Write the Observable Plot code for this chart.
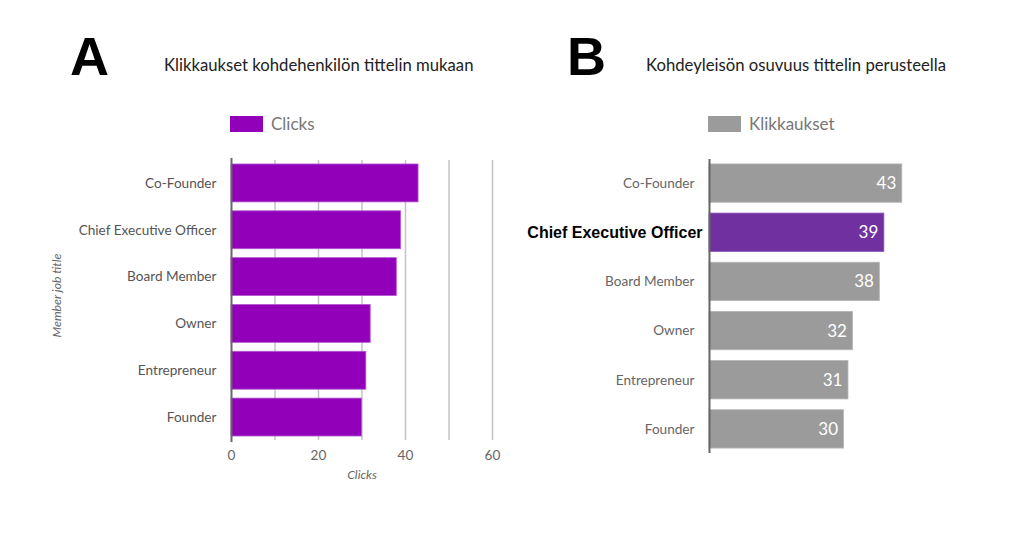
<!DOCTYPE html>
<html>
<head>
<meta charset="utf-8">
<script src="https://cdn.jsdelivr.net/npm/d3@7"></script>
<script src="https://cdn.jsdelivr.net/npm/@observablehq/plot@0.6"></script>
<style>
  html, body { margin: 0; padding: 0; background: #fff; }
  #root { position: relative; width: 1024px; height: 538px; overflow: hidden; background: #fff; font-family: Lato, sans-serif; }
  .abs { position: absolute; white-space: nowrap; }
  .letter { font-family: "Liberation Sans", Arial, sans-serif; font-weight: bold; font-size: 54px; line-height: 1; color: #000; }
  .subtitle { font-family: Lato, sans-serif; font-size: 16.7px; color: #222; line-height: 1; }
  .legend { font-family: Lato, sans-serif; font-size: 17px; color: #777; line-height: 1; display: flex; align-items: center; }
  .swatch { display: inline-block; width: 33px; height: 16px; margin-right: 8px; }
</style>
</head>
<body>
<div id="root"></div>
<script>
// ---- data ----
const titles = ["Co-Founder", "Chief Executive Officer", "Board Member", "Owner", "Entrepreneur", "Founder"];
const clicks = [43, 39, 38, 32, 31, 30];
const highlightTitle = "Chief Executive Officer";
const xTicksA = [0, 20, 40, 60];
const gridA = [10, 20, 30, 40, 50, 60];
const panelLetters = ["A", "B"];
const panelTitles = ["Klikkaukset kohdehenkilön tittelin mukaan", "Kohdeyleisön osuvuus tittelin perusteella"];
const legendLabels = ["Clicks", "Klikkaukset"];
const axisTitleX = "Clicks";
const axisTitleY = "Member job title";

const rows = titles.map((t, i) => ({title: t, clicks: clicks[i]}));

const purpleA = "#9300b9";
const purpleB = "#7030a0";
const greyB = "#9b9b9b";

const root = document.getElementById("root");
function addDiv(cls, left, top, html) {
  const d = document.createElement("div");
  d.className = "abs " + cls;
  d.style.left = left + "px";
  d.style.top = top + "px";
  d.innerHTML = html;
  root.appendChild(d);
  return d;
}

// headers
addDiv("letter", 70, 29, panelLetters[0]);
addDiv("letter", 567, 29, panelLetters[1]);
addDiv("subtitle", 164, 57, panelTitles[0]);
addDiv("subtitle", 646, 57, panelTitles[1]);
addDiv("legend", 230, 115, `<span class="swatch" style="background:${purpleA}"></span>${legendLabels[0]}`);
addDiv("legend", 708, 115, `<span class="swatch" style="background:${greyB}"></span>${legendLabels[1]}`);

// ---- Panel A ----
const plotA = Plot.plot({
  width: 520,
  height: 350,
  marginLeft: 231,
  marginRight: 28,
  marginTop: 20,
  marginBottom: 50,
  style: {fontFamily: "Lato, sans-serif", fontSize: "13.6px", color: "#666", background: "transparent"},
  x: {domain: [0, 60], ticks: xTicksA, label: null, tickSize: 0, tickPadding: 10},
  y: {domain: titles, paddingInner: 0.19, paddingOuter: 0.085, round: false, label: null, tickSize: 0, tickPadding: 15},
  marks: [
    Plot.ruleX(gridA, {stroke: "#c4c4c4", strokeWidth: 1.5}),
    Plot.barX(rows, {x: "clicks", y: "title", fill: purpleA, stroke: "#b45bd6", strokeWidth: 0.8}),
    Plot.ruleX([0], {stroke: "#666", strokeWidth: 2, insetTop: -2, insetBottom: -2}),
    Plot.axisX({ticks: xTicksA, tickSize: 0, tickPadding: 10, label: null, fill: "#666"}),
    Plot.axisY({tickSize: 0, tickPadding: 15, label: null, fill: "#555"}),
    Plot.text([axisTitleX], {frameAnchor: "bottom", dy: 38, fontStyle: "italic", fontSize: 12.3, fill: "#666"}),
    Plot.text([axisTitleY], {frameAnchor: "left", textAnchor: "middle", dx: -174, dy: -5, rotate: -90, fontStyle: "italic", fontSize: 12.3, fill: "#666"})
  ]
});
plotA.style.position = "absolute";
plotA.style.left = "0px";
plotA.style.top = "140px";
root.appendChild(plotA);

// ---- Panel B ----
const others = rows.filter(d => d.title !== highlightTitle);
const hi = rows.filter(d => d.title === highlightTitle);
const plotB = Plot.plot({
  width: 524,
  height: 332,
  marginLeft: 209,
  marginRight: 46,
  marginTop: 19,
  marginBottom: 19,
  style: {fontFamily: "Lato, sans-serif", fontSize: "13.6px", color: "#666", background: "transparent"},
  x: {domain: [0, 60], axis: null},
  y: {domain: titles, paddingInner: 0.22, paddingOuter: 0.1, round: false, axis: null},
  marks: [
    Plot.barX(rows, {x: "clicks", y: "title", fill: d => d.title === highlightTitle ? purpleB : greyB, stroke: d => d.title === highlightTitle ? "#8a55b8" : "#b5b5b5", strokeWidth: 0.8}),
    Plot.ruleX([0], {stroke: "#666", strokeWidth: 2}),
    Plot.text(rows, {x: "clicks", y: "title", text: d => String(d.clicks), textAnchor: "end", dx: -6, fill: "white", fontSize: 17, fontFamily: "Lato, sans-serif"}),
    Plot.text(others, {x: 0, y: "title", text: "title", textAnchor: "end", dx: -15, fill: "#666", fontSize: 13.6}),
    Plot.text(hi, {x: 0, y: "title", text: "title", textAnchor: "end", dx: -7, fill: "#000", fontSize: 16, fontWeight: "bold", fontFamily: "'Liberation Sans', Arial, sans-serif"})
  ]
});
plotB.style.position = "absolute";
plotB.style.left = "500px";
plotB.style.top = "140px";
root.appendChild(plotB);
</script>
</body>
</html>
